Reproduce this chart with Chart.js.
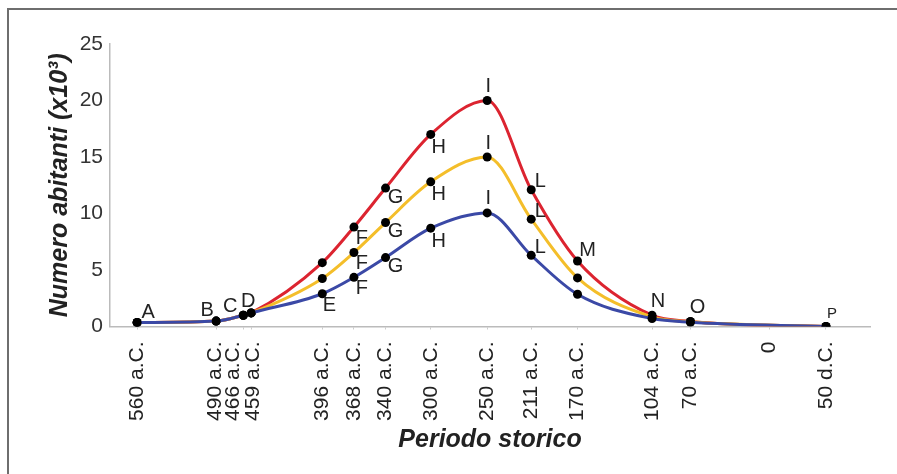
<!DOCTYPE html>
<html>
<head>
<meta charset="utf-8">
<script src="https://cdn.jsdelivr.net/npm/chart.js@4.4.0/dist/chart.umd.min.js"></script>
<style>
  html, body { margin: 0; padding: 0; background: #fff; }
  #c { display: block; }
</style>
</head>
<body>
<canvas id="c" width="897" height="474"></canvas>
<script>
// ---- data (years: negative = a.C., positive = d.C.) ----
const years  = [-560, -490, -466, -459, -396, -368, -340, -300, -250, -211, -170, -104, -70, 50];
const red    = [0.35, 0.48, 1.0, 1.2, 5.65, 8.8, 12.25, 17.0, 20.0, 12.1, 5.8, 1.0, 0.45, 0.0];
const yellow = [0.35, 0.48, 1.0, 1.2, 4.25, 6.55, 9.2, 12.8, 15.0, 9.5, 4.3, 0.85, 0.42, 0.0];
const blue   = [0.35, 0.48, 1.0, 1.2, 2.9, 4.35, 6.1, 8.7, 10.05, 6.3, 2.85, 0.7, 0.38, 0.0];

const redLetters    = ['A', 'B', 'C', 'D', '', 'F', 'G', 'H', 'I', 'L', 'M', 'N', 'O', 'P'];
const yellowLetters = ['', '', '', '', '', 'F', 'G', 'H', 'I', 'L', '', '', '', ''];
const blueLetters   = ['', '', '', '', 'E', 'F', 'G', 'H', 'I', 'L', '', '', '', ''];

const tickYears  = [-560, -490, -466, -459, -396, -368, -340, -300, -250, -211, -170, -104, -70, 0, 50];
const tickLabels = ['560 a.C.', '490 a.C.', '466 a.C.', '459 a.C.', '396 a.C.', '368 a.C.', '340 a.C.',
                    '300 a.C.', '250 a.C.', '211 a.C.', '170 a.C.', '104 a.C.', '70 a.C.', '0', '50 d.C.'];

const yTicks = [0, 5, 10, 15, 20, 25];

// ---- styling helpers ----
const FONT = "'Liberation Sans', Arial, sans-serif";
const letterOffsets = {
  A: [11, -10], B: [-9, -11], C: [-13, -9], D: [-3, -11], E: [7, 12],
  F: [8, 11], G: [10, 9], H: [8, 13], I: [1, -14], L: [9, -8],
  M: [10, -10], N: [6, -14], O: [7, -14], P: [6, -13]
};
const tickLabelNudge = { '-490': -1, '-466': -10, '-459': 2 };

function toXY(arr) { return years.map((y, i) => ({ x: y, y: arr[i] })); }

const decorPlugin = {
  id: 'decor',
  beforeDraw(chart) {
    const ctx = chart.ctx;
    ctx.save();
    ctx.fillStyle = '#fff';
    ctx.fillRect(0, 0, chart.width, chart.height);
    ctx.strokeStyle = '#6e6e6e';
    ctx.lineWidth = 2;
    ctx.beginPath();
    ctx.moveTo(8, chart.height);
    ctx.lineTo(8, 9);
    ctx.lineTo(chart.width, 9);
    ctx.stroke();
    ctx.restore();
  },
  afterDatasetsDraw(chart) {
    const ctx = chart.ctx;
    ctx.save();
    ctx.fillStyle = '#222';
    ctx.textAlign = 'center';
    ctx.textBaseline = 'middle';
    chart.data.datasets.forEach((ds, di) => {
      const meta = chart.getDatasetMeta(di);
      ds.letters.forEach((lt, i) => {
        if (!lt) return;
        const pt = meta.data[i];
        const off = letterOffsets[lt] || [0, -12];
        ctx.font = (lt === 'P' ? '15px ' : '20px ') + FONT;
        ctx.fillText(lt, pt.x + off[0], pt.y + off[1]);
      });
    });
    // x tick labels (rotated)
    const xs = chart.scales.x;
    ctx.font = '21px ' + FONT;
    ctx.fillStyle = '#222';
    ctx.textAlign = 'right';
    ctx.textBaseline = 'middle';
    tickYears.forEach((v, i) => {
      const px = xs.getPixelForValue(v) + (tickLabelNudge[String(v)] || 0);
      ctx.save();
      ctx.translate(px, xs.top + 15);
      ctx.rotate(-Math.PI / 2);
      ctx.fillText(tickLabels[i], 0, 0);
      ctx.restore();
    });
    ctx.restore();
  }
};

const common = {
  fill: false,
  borderWidth: 3,
  cubicInterpolationMode: 'monotone',
  pointRadius: 4.5,
  pointBackgroundColor: '#000',
  pointBorderColor: '#000',
  pointBorderWidth: 0
};

new Chart(document.getElementById('c'), {
  type: 'line',
  data: {
    datasets: [
      Object.assign({ label: 'max', data: toXY(red), borderColor: '#dc2430', letters: redLetters, order: 3 }, common),
      Object.assign({ label: 'med', data: toXY(yellow), borderColor: '#f4be2a', letters: yellowLetters, order: 2 }, common),
      Object.assign({ label: 'min', data: toXY(blue), borderColor: '#3b49a6', letters: blueLetters, order: 1 }, common)
    ]
  },
  options: {
    responsive: false,
    animation: false,
    devicePixelRatio: 1,
    layout: { padding: { top: 44, right: 27, left: 0, bottom: 0 } },
    plugins: { legend: { display: false }, tooltip: { enabled: false } },
    scales: {
      x: {
        type: 'linear',
        min: -584,
        max: 89,
        afterBuildTicks(scale) { scale.ticks = tickYears.map(v => ({ value: v })); },
        afterFit(scale) { scale.height = 147.5; },
        ticks: { display: false },
        grid: { display: true, drawOnChartArea: false, drawTicks: true, tickLength: 3, color: '#ccc', lineWidth: 1 },
        border: { display: true, color: '#bbb', width: 1.5 },
        title: {
          display: true, text: 'Periodo storico', color: '#222',
          font: { family: FONT, size: 25, weight: 'bold', style: 'italic' },
          padding: { top: 0, bottom: 19 }
        }
      },
      y: {
        min: 0,
        max: 25,
        afterBuildTicks(scale) { scale.ticks = yTicks.map(v => ({ value: v })); },
        afterFit(scale) { scale.width = 110; },
        ticks: { color: '#333', font: { family: FONT, size: 21 }, padding: 7 },
        grid: { display: false, drawTicks: false, tickLength: 0 },
        border: { display: true, color: '#bbb', width: 1.5 },
        title: {
          display: true, text: 'Numero abitanti (x10³)', color: '#222',
          font: { family: FONT, size: 25, weight: 'bold', style: 'italic' },
          padding: { top: 45, bottom: 0 }
        }
      }
    }
  },
  plugins: [decorPlugin]
});
</script>
</body>
</html>
